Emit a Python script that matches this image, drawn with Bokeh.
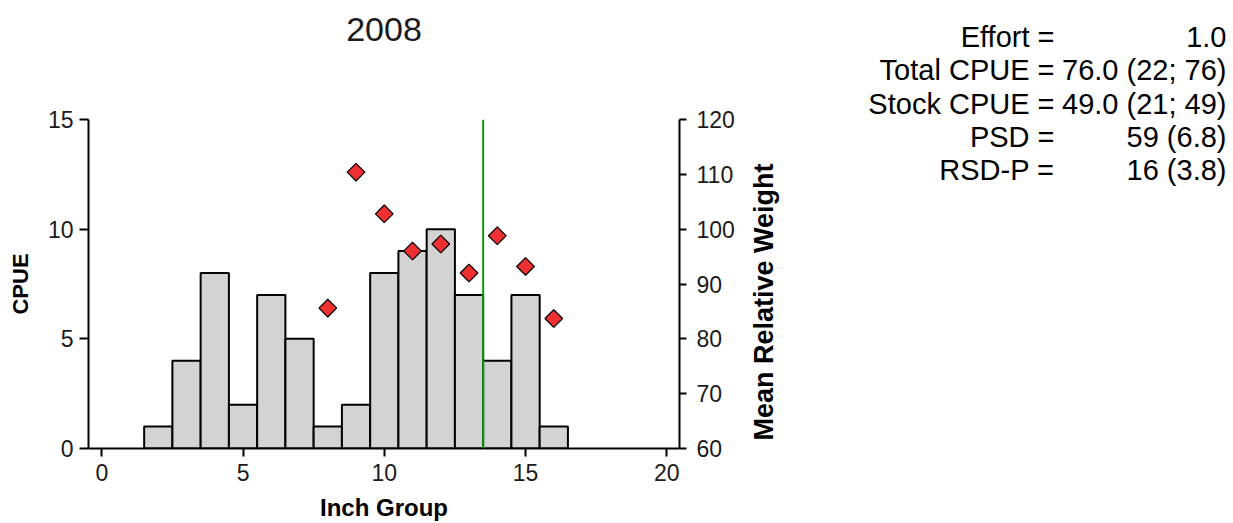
import math
from bokeh.plotting import figure
from bokeh.layouts import row
from bokeh.models import Range1d, LinearAxis, FixedTicker, Span, ColumnDataSource
from bokeh.core.properties import value
from bokeh.embed import file_html
from bokeh.resources import INLINE

# ---------------- data ----------------
title_text = "2008"
inch_groups = [2, 3, 4, 5, 6, 7, 8, 9, 10, 11, 12, 13, 14, 15, 16]
cpue_values = [1, 4, 8, 2, 7, 5, 1, 2, 8, 9, 10, 7, 4, 7, 1]
wr_groups = [8, 9, 10, 11, 12, 13, 14, 15, 16]
wr_values = [85.6, 110.4, 102.8, 96.0, 97.3, 92.0, 98.8, 93.2, 83.7]
quality_line = 13.5
x_ticks = [0, 5, 10, 15, 20]
cpue_ticks = [0, 5, 10, 15]
wr_ticks = [60, 70, 80, 90, 100, 110, 120]
stat_labels = ["Effort =", "Total CPUE =", "Stock CPUE =", "PSD =", "RSD-P ="]
stat_values = ["1.0", "76.0 (22; 76)", "49.0 (21; 49)", "59 (6.8)", "16 (3.8)"]

# ---------------- layout (page pixels) ----------------
TOTAL_W, TOTAL_H = 1233, 523
CW = 745                                   # width of the chart figure
FL, FR, FT, FB = 88, 679, 119, 449         # frame edges
XMIN, XMAX = -0.47, 20.45
YMIN, YMAX = 0, 15

FONT = "Liberation Sans"
TXT = "#1a1a1a"

p = figure(width=CW, height=TOTAL_H, output_backend="svg", toolbar_location=None,
           x_range=Range1d(XMIN, XMAX), y_range=Range1d(YMIN, YMAX),
           min_border_left=FL, min_border_right=CW - FR,
           min_border_top=FT, min_border_bottom=TOTAL_H - FB)
p.outline_line_color = None
p.xgrid.visible = False
p.ygrid.visible = False
p.extra_y_ranges = {"wr": Range1d(wr_ticks[0], wr_ticks[-1])}

src = ColumnDataSource(dict(x=inch_groups, top=cpue_values))
p.vbar(x="x", top="top", bottom=0, width=1, source=src,
       fill_color="#d3d3d3", line_color="black", line_width=2)

p.add_layout(Span(location=quality_line, dimension="height",
                  line_color="#149614", line_width=2))

wsrc = ColumnDataSource(dict(x=wr_groups, y=wr_values))
p.scatter(x="x", y="y", source=wsrc, y_range_name="wr", marker="square",
          angle=math.pi / 4, size=12.5, fill_color="#f03030",
          line_color="black", line_width=1.2)

right = LinearAxis(y_range_name="wr")
p.add_layout(right, "right")

def style(ax, ticks, tick_out, standoff):
    ax.ticker = FixedTicker(ticks=ticks)
    ax.minor_tick_line_color = None
    ax.major_tick_in = 0
    ax.major_tick_out = tick_out
    ax.major_tick_line_width = 2
    ax.major_tick_line_color = "black"
    ax.axis_line_width = 2
    ax.axis_line_color = "black"
    ax.major_label_text_font = FONT
    ax.major_label_text_font_size = "23px"
    ax.major_label_text_color = TXT
    ax.major_label_standoff = standoff
    ax.axis_label_text_font = FONT
    ax.axis_label_text_font_style = "bold"
    ax.axis_label_text_color = "black"

style(p.xaxis[0], x_ticks, 8, 7)
style(p.yaxis[0], cpue_ticks, 9, 6)
style(right, wr_ticks, 7, 10)

p.yaxis[0].axis_label = "CPUE"
p.yaxis[0].axis_label_text_font_size = "22px"
p.yaxis[0].axis_label_standoff = 12

p.xaxis[0].axis_label = "Inch Group"
p.xaxis[0].axis_label_text_font_size = "24px"
p.xaxis[0].axis_label_standoff = 10

# title: label of an invisible axis above the frame
top_ax = LinearAxis()
top_ax.ticker = FixedTicker(ticks=[])
top_ax.axis_line_color = None
top_ax.major_tick_line_color = None
top_ax.minor_tick_line_color = None
top_ax.major_tick_out = 0
top_ax.major_label_standoff = 0
top_ax.axis_label = title_text
top_ax.axis_label_text_font = FONT
top_ax.axis_label_text_font_size = "34px"
top_ax.axis_label_text_font_style = "normal"
top_ax.axis_label_text_color = TXT
top_ax.axis_label_standoff = 79
p.add_layout(top_ax, "above")

# ---------------- right-hand panel: axis title + statistics ----------------
q = figure(width=TOTAL_W - CW, height=TOTAL_H, output_backend="svg",
           toolbar_location=None, x_range=Range1d(CW, TOTAL_W),
           y_range=Range1d(TOTAL_H, 0), min_border=0,
           x_axis_location=None, y_axis_location=None)
q.outline_line_color = None
q.xgrid.visible = False
q.ygrid.visible = False

for fig in (p, q):
    try:
        fig.frame_align = False
    except Exception:
        pass

q.text(x=[763], y=[(163 + 440) / 2], text=["Mean Relative Weight"], angle=math.pi / 2,
       text_font=value(FONT), text_font_size=value("27px"),
       text_font_style="bold", text_align="center", text_baseline="middle",
       text_color="black")

baselines = [36, 69.3, 103, 136, 169.3]
n = len(stat_labels)
q.text(x=[1054] * n, y=baselines, text=stat_labels, text_font=value(FONT),
       text_font_size=value("29px"), text_align="right",
       text_baseline="alphabetic", text_color="black")
q.text(x=[1226] * n, y=baselines, text=stat_values, text_font=value(FONT),
       text_font_size=value("29px"), text_align="right",
       text_baseline="alphabetic", text_color="black")

layout = row(p, q, spacing=0)
open("out.html", "w").write(file_html(layout, INLINE))
